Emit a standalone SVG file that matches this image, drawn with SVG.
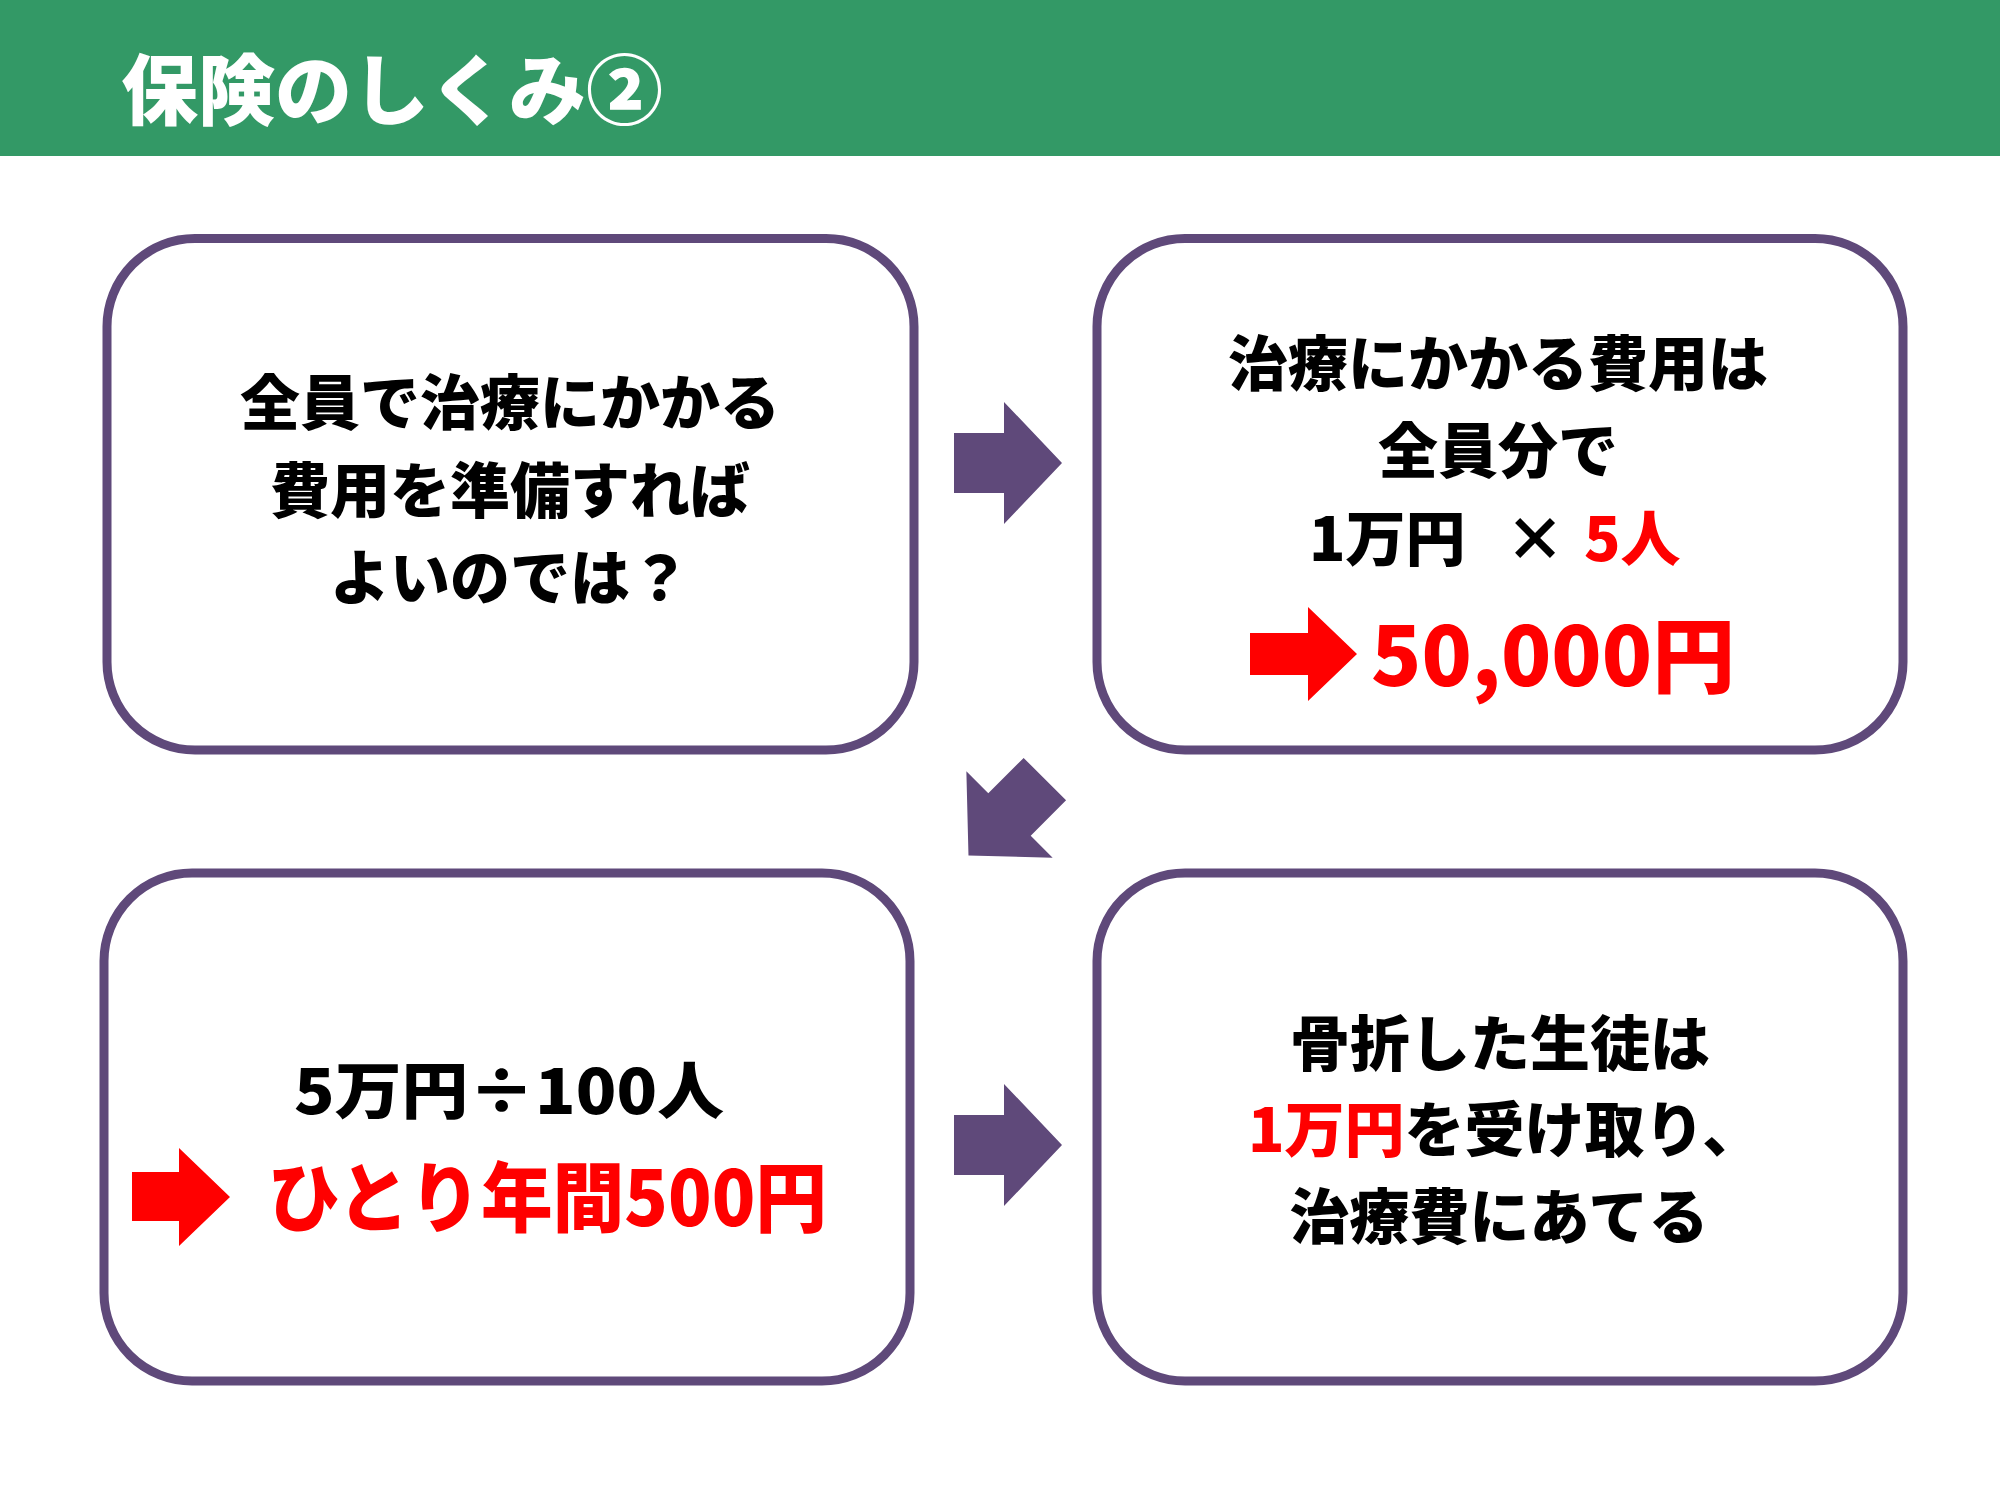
<svg xmlns="http://www.w3.org/2000/svg" width="2000" height="1500" viewBox="0 0 2000 1500">
<style>
.box{fill:#fff;stroke:#5F497A;stroke-width:9}
.t{font-family:"Noto Sans CJK JP","Noto Sans CJK SC",sans-serif;font-weight:900;fill:#000}
.c{text-anchor:middle}
.red{fill:#FF0000}
.parrow{fill:#5F497A}
.rarrow{fill:#FF0000}
</style>
<rect x="0" y="0" width="2000" height="156" fill="#339966"/>
<text class="t" x="121" y="119" font-size="77" fill="#fff" style="fill:#fff">保険のしくみ②</text>

<g id="node-tl">
<rect class="box" x="107" y="238.5" width="807" height="511.5" rx="88" ry="88"/>
<text class="t c" x="510" y="425" font-size="60">全員で治療にかかる</text>
<text class="t c" x="510" y="513" font-size="60">費用を準備すれば</text>
<text class="t c" x="510" y="600" font-size="60">よいのでは？</text>
</g>

<g id="node-tr">
<rect class="box" x="1097" y="238.5" width="806" height="511.5" rx="88" ry="88"/>
<text class="t c" x="1498" y="386" font-size="60">治療にかかる費用は</text>
<text class="t c" x="1498" y="473" font-size="60">全員分で</text>
<text class="t" y="561" font-size="60"><tspan x="1309">1万円</tspan><tspan x="1505">×</tspan><tspan x="1584" class="red">5人</tspan></text>
<path class="rarrow" d="M1250,633 H1308 V607 L1357,654 L1308,701 V675 H1250 Z"/>
<text class="t red" x="1371" y="686" font-size="82" textLength="364" lengthAdjust="spacingAndGlyphs">50,000円</text>
</g>

<g id="node-bl">
<rect class="box" x="104" y="873" width="806" height="508" rx="88" ry="88"/>
<text class="t" x="294" y="1114" font-size="62" textLength="430" lengthAdjust="spacingAndGlyphs">5万円÷100人</text>
<path class="rarrow" d="M132,1172 H179 V1148 L230,1197 L179,1246 V1221 H132 Z"/>
<text class="t red" x="268" y="1226" font-size="76" textLength="559" lengthAdjust="spacingAndGlyphs">ひとり年間500円</text>
</g>

<g id="node-br">
<rect class="box" x="1097" y="873" width="806" height="508" rx="88" ry="88"/>
<text class="t c" x="1500" y="1066" font-size="60">骨折した生徒は</text>
<text class="t" y="1152" font-size="60"><tspan x="1248" class="red">1万円</tspan>を受け取り、</text>
<text class="t c" x="1499" y="1239" font-size="60">治療費にあてる</text>
</g>

<g id="connectors">
<path class="parrow" d="M954,433 H1004 V402 L1062,463 L1004,524 V493 H954 Z"/>
<path class="parrow" d="M-50,-30 H0 V-61 L58,0 L0,61 V30 H-50 Z" transform="translate(1009.5,814.5) rotate(135)"/>
<path class="parrow" d="M954,1115 H1004 V1084 L1062,1145 L1004,1206 V1175 H954 Z"/>
</g>
</svg>
